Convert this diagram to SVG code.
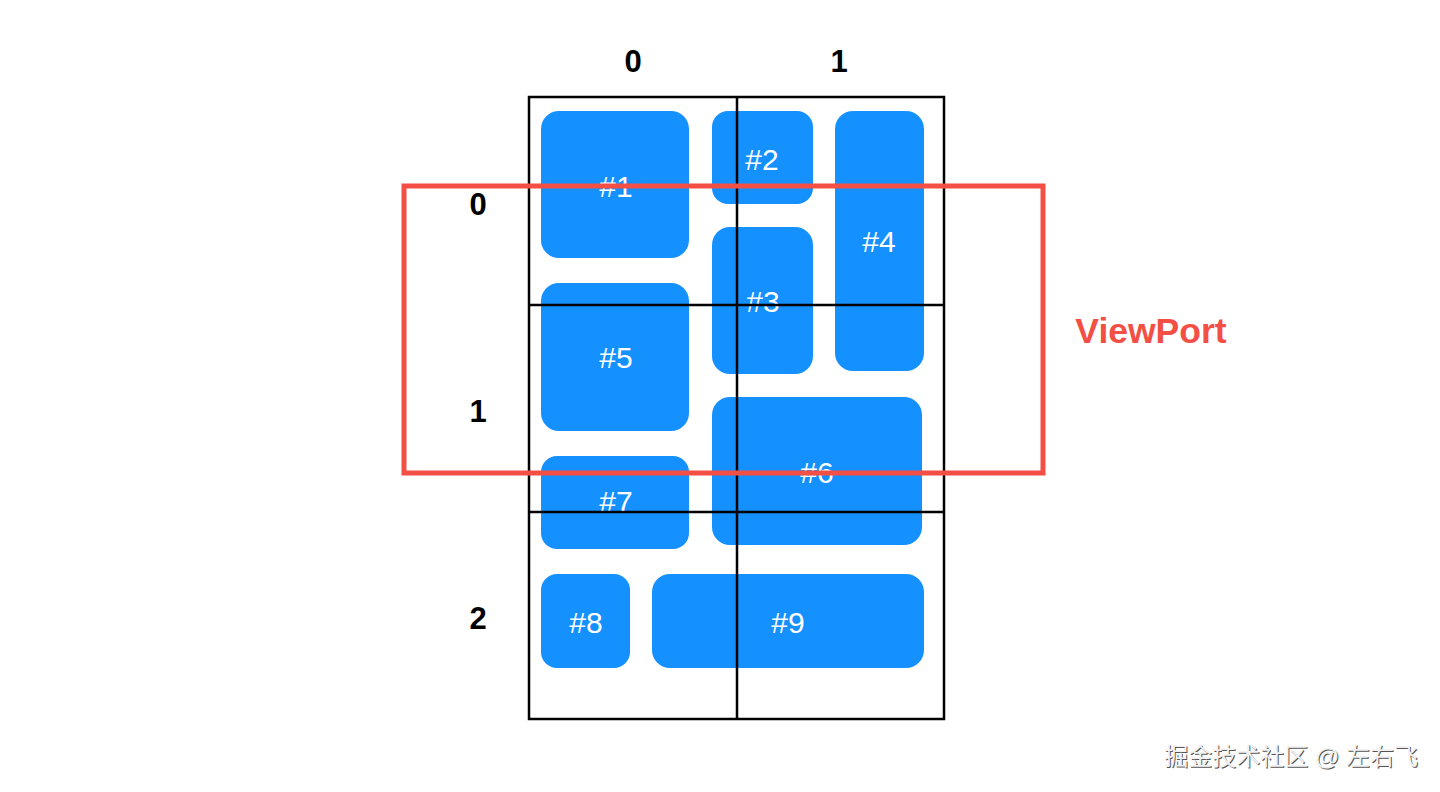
<svg xmlns="http://www.w3.org/2000/svg" width="1440" height="792" viewBox="0 0 1440 792">
<style>
.box{fill:#1490ff}
.lbl{font-family:"Liberation Sans",Arial,sans-serif;font-size:30px;fill:#fff;text-anchor:middle}
.axis{font-family:"Liberation Sans",Arial,sans-serif;font-size:31px;font-weight:bold;fill:#000;text-anchor:middle}
.grid{fill:none;stroke:#000;stroke-width:2.5}
.wm{font-family:"Liberation Sans","Noto Sans CJK SC",sans-serif;font-size:24px;text-anchor:end}
</style>
<rect width="1440" height="792" fill="#fff"/>
<g id="node1"><rect class="box" x="541" y="111" width="148" height="147" rx="18"/><text class="lbl" x="616" y="197">#1</text></g>
<g id="node2"><rect class="box" x="712" y="111" width="101" height="93" rx="16"/><text class="lbl" x="762" y="170">#2</text></g>
<g id="node3"><rect class="box" x="712" y="227" width="101" height="147" rx="18"/><text class="lbl" x="763" y="312">#3</text></g>
<g id="node4"><rect class="box" x="835" y="111" width="89" height="260" rx="18"/><text class="lbl" x="879" y="252">#4</text></g>
<g id="node5"><rect class="box" x="541" y="283" width="148" height="148" rx="18"/><text class="lbl" x="616" y="368">#5</text></g>
<g id="node6"><rect class="box" x="712" y="397" width="210" height="148" rx="18"/><text class="lbl" x="817" y="483">#6</text></g>
<g id="node7"><rect class="box" x="541" y="456" width="148" height="93" rx="16"/><text class="lbl" x="616" y="512">#7</text></g>
<g id="node8"><rect class="box" x="541" y="574" width="89" height="94" rx="16"/><text class="lbl" x="586" y="633">#8</text></g>
<g id="node9"><rect class="box" x="652" y="574" width="272" height="94" rx="18"/><text class="lbl" x="788" y="633">#9</text></g>
<g id="connectors">
<rect class="grid" x="529" y="97" width="415" height="622"/>
<line class="grid" x1="737" y1="97" x2="737" y2="719"/>
<line class="grid" x1="529" y1="305" x2="944" y2="305"/>
<line class="grid" x1="529" y1="512" x2="944" y2="512"/>
</g>
<g id="axis-labels">
<text class="axis" x="633" y="72">0</text>
<text class="axis" x="839" y="72">1</text>
<text class="axis" x="478" y="215">0</text>
<text class="axis" x="478" y="422">1</text>
<text class="axis" x="478" y="629">2</text>
</g>
<g id="viewport">
<rect x="404" y="186" width="639" height="287" fill="none" stroke="#f34f44" stroke-width="5"/>
<text x="1151" y="343" font-family="'Liberation Sans',Arial,sans-serif" font-size="35.5" font-weight="bold" fill="#f34f44" text-anchor="middle">ViewPort</text>
</g>
<text class="wm" x="1419" y="766" fill="#555">掘金技术社区 @ 左右飞</text>
<text class="wm" x="1418" y="765" fill="#f2f2f2">掘金技术社区 @ 左右飞</text>
</svg>
